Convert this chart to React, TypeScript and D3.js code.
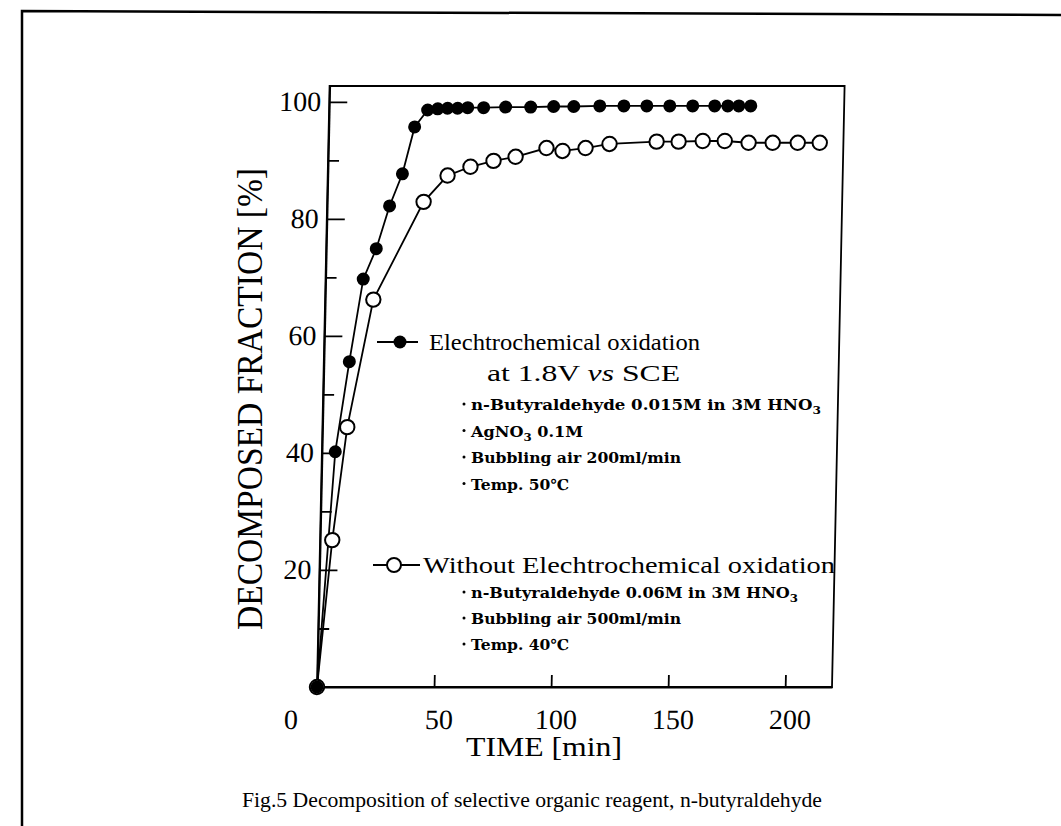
import React, { useEffect, useRef } from 'react';
import * as d3 from 'd3';

// electrochemical oxidation (filled circles)
const filledTime = [0, 5.7, 10.9, 16.1, 21.4, 26.7, 31.9, 36.7, 42.1, 46.4, 50.6, 54.9, 59.2, 66.0, 75.4, 86.1, 95.9, 104.5, 115.6, 125.9, 135.7, 145.5, 155.3, 164.7, 170.3, 175.0, 180.1];
const filledValue = [0, 40.2, 55.6, 69.7, 74.9, 82.2, 87.7, 95.7, 98.6, 98.8, 98.9, 98.9, 99.0, 99.0, 99.1, 99.1, 99.2, 99.2, 99.3, 99.3, 99.3, 99.3, 99.3, 99.3, 99.3, 99.3, 99.3];

// without electrochemical oxidation (open circles)
const openTime = [0, 5.2, 10.6, 20.6, 41.2, 51.2, 60.9, 70.7, 80.1, 93.2, 100.1, 109.9, 120.1, 140.2, 149.6, 159.9, 169.3, 179.5, 189.8, 200.5, 209.9];
const openValue = [0, 25.1, 44.4, 66.2, 82.9, 87.4, 88.9, 89.9, 90.6, 92.1, 91.6, 92.1, 92.8, 93.2, 93.2, 93.3, 93.3, 93.0, 93.0, 93.0, 93.0];

const xTicks = [0, 50, 100, 150, 200];
const yMajor = [20, 40, 60, 80, 100];
const yMinor = [10, 30, 50, 70, 90];

// each row: text pieces, '3' after "O" is a subscript; last number is the width on the page
const group1: [string[], number][] = [
  [['n-Butyraldehyde 0.015M in 3M HNO', '3'], 350],
  [['AgNO', '3', ' 0.1M'], 112],
  [['Bubbling air 200ml/min'], 210],
  [['Temp. 50\u2103'], 98],
];
const group2: [string[], number][] = [
  [['n-Butyraldehyde 0.06M in 3M HNO', '3'], 327],
  [['Bubbling air 500ml/min'], 210],
  [['Temp. 40\u2103'], 98],
];

export default function App() {
  const ref = useRef<SVGSVGElement>(null);

  useEffect(() => {
    const svg = d3.select(ref.current);
    svg.selectAll('*').remove();

    const x = d3.scaleLinear().domain([0, 220]).range([317, 832]);
    const y = d3.scaleLinear().domain([0, 102.7]).range([687, 86]);
    const serif = 'Liberation Serif, Times New Roman, serif';

    // outer frame of the figure
    svg.append('path')
      .attr('d', 'M22,826 L22,11 L1061,15')
      .attr('fill', 'none')
      .attr('stroke', '#000')
      .attr('stroke-width', 2.5);

    // the scan is slightly sheared, keep the plot sheared too
    const plot = svg.append('g')
      .attr('transform', 'translate(0,687) skewX(-1.2) translate(0,-687)');

    plot.append('rect')
      .attr('x', x(0)).attr('y', y(102.7))
      .attr('width', x(220) - x(0)).attr('height', y(0) - y(102.7))
      .attr('fill', 'none').attr('stroke', '#000').attr('stroke-width', 1.8);

    const xAxis = plot.append('g')
      .attr('transform', `translate(0,${y(0)})`)
      .call(d3.axisBottom(x).tickValues(xTicks).tickSizeInner(-12).tickSizeOuter(0).tickPadding(22));
    xAxis.selectAll('text')
      .attr('dx', (d: any) => (d === 0 ? -26 : 5));
    xAxis.selectAll('.tick').filter((d: any) => d === 0).select('line').remove();

    const yAxis = plot.append('g')
      .attr('transform', `translate(${x(0)},0)`)
      .call(d3.axisLeft(y).tickValues(yMajor).tickSizeInner(-18).tickSizeOuter(0).tickPadding(8));
    plot.append('g')
      .attr('transform', `translate(${x(0)},0)`)
      .call(d3.axisLeft(y).tickValues(yMinor).tickSizeInner(-11).tickSizeOuter(0).tickFormat(() => ''))
      .select('.domain').remove();

    [xAxis, yAxis].forEach((a) => {
      a.attr('font-family', serif).attr('font-size', 28);
      a.selectAll('text').attr('fill', '#000');
    });
    plot.selectAll('.domain').attr('stroke-width', 2);
    plot.selectAll('.tick line').attr('stroke-width', 1.8);

    const line = d3.line<[number, number]>()
      .x((d) => x(d[0]))
      .y((d) => y(d[1]));

    const filled = filledTime.map((t, i) => [t, filledValue[i]] as [number, number]);
    const open = openTime.map((t, i) => [t, openValue[i]] as [number, number]);

    plot.append('path').attr('d', line(open)).attr('fill', 'none').attr('stroke', '#000').attr('stroke-width', 1.8);
    plot.append('path').attr('d', line(filled)).attr('fill', 'none').attr('stroke', '#000').attr('stroke-width', 1.8);

    plot.selectAll('.open').data(open).join('circle')
      .attr('class', 'open')
      .attr('cx', (d) => x(d[0])).attr('cy', (d) => y(d[1]))
      .attr('r', 7.2).attr('fill', '#fff').attr('stroke', '#000').attr('stroke-width', 2);
    plot.selectAll('.filled').data(filled).join('circle')
      .attr('class', 'filled')
      .attr('cx', (d) => x(d[0])).attr('cy', (d) => y(d[1]))
      .attr('r', 6.5).attr('fill', '#000');

    // axis titles
    svg.append('text')
      .attr('x', 466).attr('y', 756)
      .attr('font-family', serif).attr('font-size', 28)
      .attr('textLength', 156).attr('lengthAdjust', 'spacingAndGlyphs')
      .text('TIME [min]');
    svg.append('text')
      .attr('transform', 'translate(262,630) rotate(-90)')
      .attr('font-family', serif).attr('font-size', 36)
      .attr('textLength', 462).attr('lengthAdjust', 'spacingAndGlyphs')
      .text('DECOMPOSED FRACTION [%]');

    // legend
    svg.append('line').attr('x1', 377).attr('x2', 418).attr('y1', 342).attr('y2', 342).attr('stroke', '#000').attr('stroke-width', 1.8);
    svg.append('circle').attr('cx', 400).attr('cy', 342).attr('r', 6.5).attr('fill', '#000');
    svg.append('text')
      .attr('x', 429).attr('y', 350)
      .attr('font-family', serif).attr('font-size', 23)
      .attr('textLength', 271).attr('lengthAdjust', 'spacingAndGlyphs')
      .text('Elechtrochemical oxidation');
    const at = svg.append('text')
      .attr('x', 487).attr('y', 381)
      .attr('font-family', serif).attr('font-size', 23)
      .attr('textLength', 193).attr('lengthAdjust', 'spacingAndGlyphs');
    at.append('tspan').text('at 1.8V ');
    at.append('tspan').attr('font-style', 'italic').text('vs');
    at.append('tspan').text(' SCE');

    svg.append('line').attr('x1', 373).attr('x2', 420).attr('y1', 565).attr('y2', 565).attr('stroke', '#000').attr('stroke-width', 1.8);
    svg.append('circle').attr('cx', 394).attr('cy', 565).attr('r', 7).attr('fill', '#fff').attr('stroke', '#000').attr('stroke-width', 2);
    svg.append('text')
      .attr('x', 423).attr('y', 573)
      .attr('font-family', serif).attr('font-size', 23)
      .attr('textLength', 412).attr('lengthAdjust', 'spacingAndGlyphs')
      .text('Without Elechtrochemical oxidation');

    const bullets = (rows: [string[], number][], y0: number, step: number) => {
      rows.forEach(([parts, w], i) => {
        const yy = y0 + i * step;
        svg.append('circle').attr('cx', 464).attr('cy', yy - 6).attr('r', 1.5).attr('fill', '#000');
        const t = svg.append('text')
          .attr('x', 471).attr('y', yy)
          .attr('font-family', 'DejaVu Serif, serif').attr('font-weight', 'bold')
          .attr('font-size', 15)
          .attr('textLength', w).attr('lengthAdjust', 'spacingAndGlyphs');
        parts.forEach((p, j) => {
          const isSub = p === '3' && j > 0 && parts[j - 1].endsWith('O');
          t.append('tspan')
            .attr('font-size', isSub ? 11 : 15)
            .attr('dy', isSub ? 4 : j > 0 && parts[j - 1] === '3' ? -4 : 0)
            .text(p);
        });
      });
    };
    bullets(group1, 410, 26.5);
    bullets(group2, 598, 26);

    // caption
    svg.append('text')
      .attr('x', 242).attr('y', 807)
      .attr('font-family', serif).attr('font-size', 22)
      .attr('textLength', 580).attr('lengthAdjust', 'spacingAndGlyphs')
      .text('Fig.5 Decomposition of selective organic reagent, n-butyraldehyde');
  }, []);

  return (
    <svg
      ref={ref}
      width={1061}
      height={826}
      style={{ position: 'absolute', left: 0, top: 0, background: '#fff' }}
    />
  );
}
